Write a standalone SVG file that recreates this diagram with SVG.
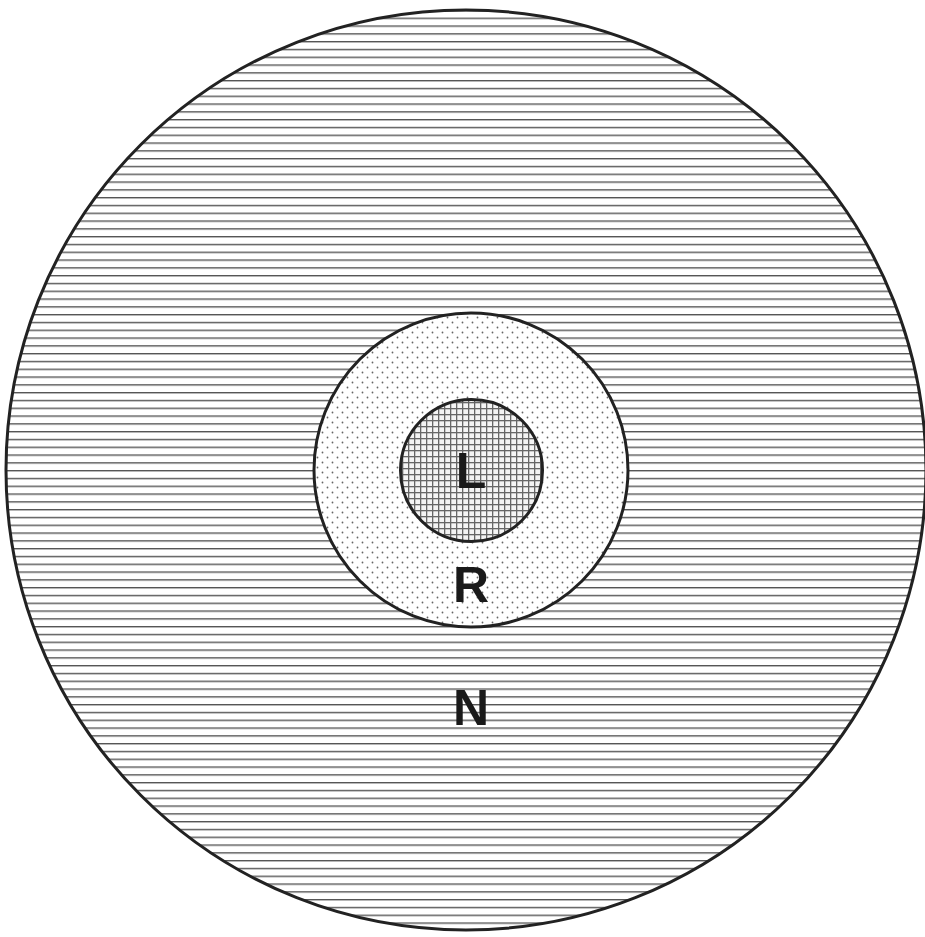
<svg xmlns="http://www.w3.org/2000/svg" width="925" height="937" viewBox="0 0 925 937">
<style>
.ring{stroke:#222;stroke-width:3}
.lbl{font-family:"Liberation Sans",Arial,sans-serif;font-weight:bold;font-size:50px;fill:#1a1a1a;text-anchor:middle}
</style>
<defs>
<pattern id="hlines" patternUnits="userSpaceOnUse" x="0" y="2" width="10" height="7.8">
<rect width="10" height="7.8" fill="#fff"/>
<rect y="0" width="10" height="1.4" fill="#555"/>
</pattern>
<pattern id="dots" patternUnits="userSpaceOnUse" width="10" height="10">
<rect width="10" height="10" fill="#fff"/>
<circle cx="2.5" cy="2.5" r="0.9" fill="#666"/>
<circle cx="7.5" cy="7.5" r="0.9" fill="#666"/>
</pattern>
<pattern id="grid" patternUnits="userSpaceOnUse" width="6" height="6">
<rect width="6" height="6" fill="#f4f4f4"/>
<rect width="6" height="1.3" fill="#666"/>
<rect width="1.3" height="6" fill="#666"/>
</pattern>
</defs>
<g id="N">
<circle class="ring" cx="466" cy="470" r="460" fill="url(#hlines)" stroke-width="2.5"/>
<text class="lbl" x="471" y="725">N</text>
</g>
<g id="R">
<circle class="ring" cx="471" cy="470" r="157" fill="url(#dots)"/>
<text class="lbl" x="471" y="602">R</text>
</g>
<g id="L">
<circle class="ring" cx="471.5" cy="470.5" r="71" fill="url(#grid)"/>
<text class="lbl" x="471" y="488">L</text>
</g>
<g id="connectors"/>
</svg>
